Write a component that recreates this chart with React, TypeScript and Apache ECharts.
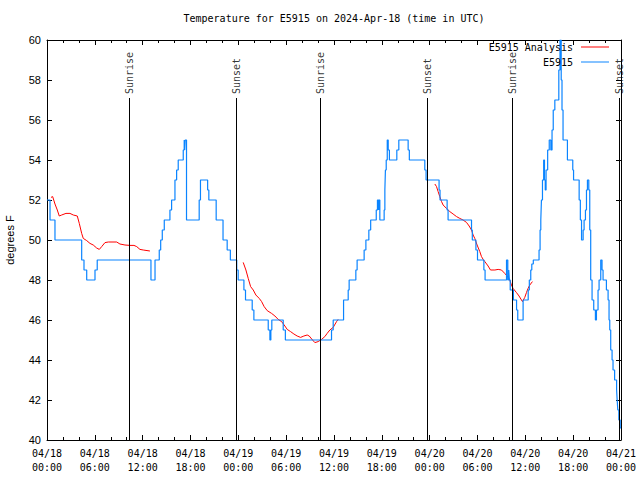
import React, { useEffect, useRef } from "react";
import * as echarts from "echarts";

const MONO = '"DejaVu Sans Mono", "Liberation Mono", monospace';
const SANS = '"Liberation Sans", Arial, sans-serif';

const titleText = "Temperature for E5915 on 2024-Apr-18 (time in UTC)";
const yAxisTitle = "degrees F";
const obsName = "E5915";
const analysisName = "E5915 Analysis";

// hours since 2024-04-18 00:00 UTC
const xTickLabels = [
  "04/18\n00:00", "04/18\n06:00", "04/18\n12:00", "04/18\n18:00",
  "04/19\n00:00", "04/19\n06:00", "04/19\n12:00", "04/19\n18:00",
  "04/20\n00:00", "04/20\n06:00", "04/20\n12:00", "04/20\n18:00",
  "04/21\n00:00",
];

const sunEventHours = [10.33, 23.72, 34.27, 47.71, 58.35, 71.78];
const sunEventLabels = ["Sunrise", "Sunset", "Sunrise", "Sunset", "Sunrise", "Sunset"];
const sunMarkerTop = 57.1;

// observations: [hour, degF] (value holds until next point)
const obsData: [number, number][] = [
  [0, 52], [0.38, 51], [1.0, 50], [4.35, 49], [4.64, 48.5], [4.98, 48], [6.02, 48.5], [6.3, 49],
  [13.04, 48], [13.55, 49], [14.08, 49.5], [14.26, 50], [14.46, 50.5], [14.71, 51], [15.42, 51.5],
  [15.63, 52], [16.05, 53], [16.26, 53.5], [16.46, 54], [17.09, 54.5], [17.21, 55], [17.27, 54.5],
  [17.33, 55], [17.5, 51],
  [19.09, 52], [19.25, 53], [20.15, 52.5], [20.3, 52], [21.22, 51], [22.08, 50], [22.6, 49.5], [23.0, 49],
  [23.8, 48.5], [23.98, 48], [24.7, 47.5], [24.9, 47], [25.74, 46.5], [25.95, 46], [27.75, 45.5],
  [27.96, 45], [28.08, 45.5], [28.2, 46], [29.63, 45.5], [29.9, 45],
  [35.69, 45.5], [35.9, 46], [37.2, 47], [37.78, 47.5], [37.9, 48], [38.74, 48.5], [38.9, 49],
  [39.78, 49.5], [40.0, 50], [40.37, 50.5], [40.6, 51], [41.3, 51.5], [41.45, 52], [41.6, 51.5],
  [41.65, 52], [41.75, 51],
  [42.29, 51.5], [42.38, 52.5], [42.45, 53.5], [42.55, 54], [42.68, 55], [42.8, 54.5], [42.95, 54],
  [43.88, 54.5], [44.13, 55], [45.3, 54.5], [45.45, 54], [47.39, 53.5], [47.55, 53],
  [49.18, 52.5], [49.3, 52], [50.19, 51.5], [50.31, 51], [53.25, 50.5], [53.35, 50], [53.8, 49.5],
  [54.0, 49], [54.8, 48.5], [54.95, 48],
  [57.64, 49], [57.8, 48], [57.92, 48.5], [58.0, 48], [58.1, 47.5], [58.5, 47], [58.9, 46.5],
  [59.05, 46], [59.72, 47], [60.36, 47.5], [60.5, 48], [60.68, 48.5], [60.81, 48.8], [61.0, 49],
  [61.72, 49.5], [61.85, 50.5], [61.94, 51], [62.02, 52], [62.15, 53], [62.3, 54], [62.4, 53],
  [62.5, 52.5], [62.6, 53.5], [62.8, 54.5], [63.0, 55], [63.2, 54.5], [63.35, 55.5], [63.5, 56.5],
  [63.7, 57], [64.2, 58.5], [64.35, 60], [64.5, 58], [64.6, 56.5], [64.73, 55],
  [65.28, 54], [65.95, 53.5], [66.05, 53], [66.75, 52], [66.9, 51], [67.05, 50], [67.25, 50.5],
  [67.37, 51], [67.54, 51.5], [67.67, 52.5], [67.79, 53], [67.96, 52.5], [68.08, 50.5], [68.2, 48],
  [68.37, 47], [68.58, 46.5], [68.79, 46], [68.92, 46.5], [69.12, 47.5], [69.25, 48], [69.46, 49],
  [69.62, 48.5], [69.75, 48], [70.17, 47.5], [70.38, 47], [70.5, 46], [70.59, 45.5], [70.71, 44.5],
  [70.88, 44], [71.0, 43.5], [71.2, 43], [71.45, 42.5], [71.52, 42], [71.6, 41.5], [71.73, 41],
  [71.9, 40.6], [72, 40.6],
];

// analysis: [hour, degF], three separate runs
const analysisRun1: [number, number][] = [
  [0.5, 52.13], [0.71, 52.17], [1.0, 51.8], [1.29, 51.5], [1.54, 51.2], [1.84, 51.25], [2.38, 51.33],
  [2.88, 51.33], [3.3, 51.25], [3.8, 51.2], [4.05, 50.83], [4.35, 50.33], [4.55, 50.08], [4.98, 49.97],
  [5.39, 49.83], [5.8, 49.75], [6.23, 49.6], [6.56, 49.53], [6.86, 49.67], [7.27, 49.87], [7.69, 49.9],
  [8.74, 49.9], [9.15, 49.8], [9.78, 49.75], [10.41, 49.73], [10.91, 49.73], [11.25, 49.67],
  [11.66, 49.53], [12.07, 49.5], [12.91, 49.45],
];
const analysisRun2: [number, number][] = [
  [24.61, 48.88], [24.95, 48.5], [25.24, 48.08], [25.54, 47.67], [25.87, 47.5], [26.2, 47.25],
  [26.62, 47.08], [26.92, 46.92], [27.24, 46.67], [27.62, 46.47], [28.17, 46.33], [28.59, 46.2],
  [29.0, 46.03], [29.43, 45.92], [29.84, 45.7], [30.13, 45.53], [30.55, 45.42], [30.97, 45.3],
  [31.38, 45.2], [31.81, 45.13], [32.22, 45.2], [32.64, 45.25], [32.89, 45.2], [33.31, 45.0],
  [33.6, 44.87], [34.01, 44.92], [34.44, 45.03], [34.85, 45.17], [35.14, 45.33], [35.48, 45.5],
  [35.9, 45.63], [36.32, 45.92], [36.52, 46.03],
];
const analysisRun3: [number, number][] = [
  [48.65, 52.8], [48.86, 52.67], [49.06, 52.42], [49.27, 52.17], [49.49, 51.92], [49.69, 51.75],
  [50.11, 51.58], [50.53, 51.42], [50.94, 51.3], [51.37, 51.17], [51.78, 51.08], [52.19, 51.0],
  [52.62, 50.88], [52.95, 50.7], [53.25, 50.5], [53.45, 50.25], [53.66, 50.08], [53.95, 49.75],
  [54.29, 49.42], [54.5, 49.17], [54.71, 49.03], [54.92, 48.92], [55.33, 48.7], [55.63, 48.5],
  [56.18, 48.5], [56.59, 48.53], [57.01, 48.5], [57.42, 48.33], [57.71, 48.2], [58.05, 48.0],
  [58.26, 47.75], [58.46, 47.58], [58.89, 47.37], [59.21, 47.2], [59.64, 46.92], [59.93, 47.13],
  [60.14, 47.37], [60.34, 47.58], [60.56, 47.75], [60.89, 47.92],
];

const RED = "#ff0000";
const BLUE = "#0a84ff";

export default function App() {
  const ref = useRef<HTMLDivElement>(null);
  useEffect(() => {
    if (!ref.current) return;
    const chart = echarts.init(ref.current, null, { renderer: "svg" });
    const black = { color: "#000", width: 1 };
    const xCommon = {
      type: "value",
      min: 0,
      max: 72,
      interval: 6,
      axisLine: { show: true, onZero: false, lineStyle: black },
      axisTick: { show: true, inside: true, length: 5, lineStyle: black },
      minorTick: { show: true, splitNumber: 3, length: 3, lineStyle: black },
      splitLine: { show: false },
      minorSplitLine: { show: false },
    };
    const yCommon = {
      type: "value",
      min: 40,
      max: 60,
      interval: 2,
      axisLine: { show: true, onZero: false, lineStyle: black },
      axisTick: { show: true, inside: true, length: 5, lineStyle: black },
      splitLine: { show: false },
    };
    const analysisSeries = [analysisRun1, analysisRun2, analysisRun3].map((run) => ({
      type: "line",
      name: analysisName,
      data: run,
      symbol: "none",
      showSymbol: false,
      lineStyle: { color: RED, width: 1 },
      itemStyle: { color: RED },
      z: 2,
    }));
    const legendText = { fontFamily: MONO, fontSize: 10, color: "#000", padding: [0, 3, 0, 0] };
    chart.setOption({
      animation: false,
      backgroundColor: "#fff",
      title: {
        text: titleText,
        left: 334,
        top: 13,
        padding: 0,
        textAlign: "center",
        textStyle: { fontFamily: MONO, fontSize: 10, fontWeight: "normal", color: "#000" },
      },
      legend: [
        {
          data: [analysisName], right: 31, top: 42, padding: 0, align: "right", icon: "rect",
          itemWidth: 28, itemHeight: 1, selectedMode: false, textStyle: legendText,
        },
        {
          data: [obsName], right: 31, top: 57, padding: 0, align: "right", icon: "rect",
          itemWidth: 28, itemHeight: 1, selectedMode: false, textStyle: legendText,
        },
      ],
      grid: { left: 47, right: 19, top: 40, bottom: 40, containLabel: false, outerBoundsMode: "none" },
      xAxis: [
        {
          ...xCommon,
          position: "bottom",
          axisLabel: {
            formatter: (v: number) => xTickLabels[Math.round(v / 6)] ?? "",
            fontFamily: MONO, fontSize: 10, lineHeight: 14, color: "#000", margin: 6,
          },
        },
        { ...xCommon, position: "top", axisLabel: { show: false } },
      ],
      yAxis: [
        {
          ...yCommon,
          position: "left",
          name: yAxisTitle,
          nameLocation: "middle",
          nameGap: 32,
          nameTextStyle: { fontFamily: SANS, fontSize: 11, color: "#000" },
          axisLabel: { fontFamily: SANS, fontSize: 11, color: "#000", margin: 6 },
        },
        { ...yCommon, position: "right", axisLabel: { show: false } },
      ],
      series: [
        ...analysisSeries,
        {
          type: "line",
          name: obsName,
          data: obsData,
          step: "end",
          symbol: "none",
          showSymbol: false,
          lineStyle: { color: BLUE, width: 1.2 },
          itemStyle: { color: BLUE },
          z: 3,
        },
        {
          type: "scatter",
          name: "sun",
          data: sunEventHours.map((h, i) => ({ value: [h, sunMarkerTop], name: sunEventLabels[i] })),
          symbolSize: 0,
          silent: true,
          label: {
            show: true,
            formatter: (p: any) => p.name,
            position: "top",
            distance: 4,
            rotate: 90,
            align: "left",
            verticalAlign: "middle",
            fontFamily: MONO,
            fontSize: 10,
            color: "#000",
          },
          markLine: {
            silent: true,
            symbol: ["none", "none"],
            label: { show: false },
            lineStyle: { color: "#000", width: 1, type: "solid" },
            data: sunEventHours.map((h) => [{ coord: [h, 40] }, { coord: [h, sunMarkerTop] }]),
          },
          z: 1,
        },
      ],
    });
    return () => chart.dispose();
  }, []);
  return (
    <div
      ref={ref}
      style={{ position: "fixed", left: 0, top: 0, width: 640, height: 480, background: "#fff" }}
    />
  );
}
